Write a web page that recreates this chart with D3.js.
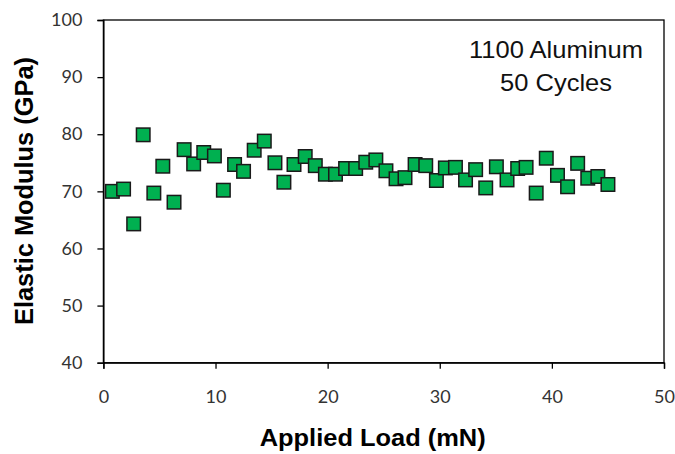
<!DOCTYPE html>
<html><head><meta charset="utf-8">
<script src="https://cdn.jsdelivr.net/npm/d3@7"></script>
<style>body{margin:0;background:#fff}svg{display:block}</style>
</head><body>
<svg id="c" width="675" height="454"></svg>
<script>
const loads = [0.8,1.8,2.7,3.55,4.5,5.3,6.3,7.2,8.05,8.95,9.9,10.7,11.7,12.5,13.45,14.35,15.3,16.1,
  17.0,18.0,18.9,19.8,20.7,21.6,22.5,23.4,24.3,25.2,26.1,26.9,27.8,28.75,29.7,30.5,31.4,32.3,
  33.2,34.1,35.05,36.0,36.95,37.7,38.6,39.5,40.5,41.4,42.3,43.2,44.1,45.0];
const moduli = [70.0,70.4,64.3,79.9,69.7,74.4,68.1,77.3,74.8,76.8,76.2,70.2,74.7,73.5,77.2,78.8,75.0,71.6,
  74.7,76.1,74.5,73.0,73.0,74.0,74.0,75.1,75.5,73.6,72.2,72.4,74.7,74.5,71.9,74.1,74.2,72.0,
  73.8,70.6,74.3,72.0,74.0,74.2,69.7,75.8,72.8,70.8,74.9,72.3,72.6,71.2];
const xTicks = [0,10,20,30,40,50];
const yTicks = [40,50,60,70,80,90,100];
const annotation = ["1100 Aluminum", "50 Cycles"];

const svg = d3.select("#c");
const L = 103.4, R = 664, T = 20, B = 362.7;
const x = d3.scaleLinear().domain([0,50]).range([L,R]);
const y = d3.scaleLinear().domain([40,100]).range([B,T]);

svg.append("rect").attr("x",L).attr("y",T).attr("width",R-L).attr("height",B-T)
  .attr("fill","none").attr("stroke","#000").attr("stroke-width",1.3);

const xa = svg.append("g").attr("transform",`translate(0,${B})`)
  .call(d3.axisBottom(x).tickValues(xTicks).tickSize(6).tickPadding(22).tickFormat(d3.format("d")));
const ya = svg.append("g").attr("transform",`translate(${L},0)`)
  .call(d3.axisLeft(y).tickValues(yTicks).tickSize(6).tickPadding(15).tickFormat(d3.format("d")));
[xa,ya].forEach(a=>{
  a.select(".domain").attr("stroke","#000").attr("stroke-width",1.3);
  a.selectAll(".tick line").attr("stroke","#000").attr("stroke-width",1.3);
  a.selectAll(".tick text").attr("fill","#333").style("font-family","Lato, 'Open Sans', sans-serif").style("font-size","18px");
});

const s = 13.5;
svg.append("g").selectAll("rect").data(loads).join("rect")
  .attr("x",(d,i)=>x(d)-s/2).attr("y",(d,i)=>y(moduli[i])-s/2)
  .attr("width",s).attr("height",s)
  .attr("fill","#00B050").attr("stroke","#1a1a1a").attr("stroke-width",1.5);

svg.append("text").attr("x",372.7).attr("y",446).attr("text-anchor","middle")
  .style("font-family","'Liberation Sans', Arial, sans-serif").style("font-weight","bold").style("font-size","24px")
  .attr("textLength",226).attr("lengthAdjust","spacingAndGlyphs")
  .text("Applied Load (mN)");
svg.append("text").attr("transform",`translate(33,191) rotate(-90)`).attr("text-anchor","middle")
  .style("font-family","'Liberation Sans', Arial, sans-serif").style("font-weight","bold").style("font-size","25px")
  .attr("textLength",268).attr("lengthAdjust","spacingAndGlyphs")
  .text("Elastic Modulus (GPa)");

const annLen = [174, 112];
svg.append("g").selectAll("text").data(annotation).join("text")
  .attr("x",556).attr("y",(d,i)=>58+i*33).attr("text-anchor","middle")
  .style("font-family","'Liberation Sans', Arial, sans-serif").style("font-size","24px").attr("fill","#111")
  .attr("textLength",(d,i)=>annLen[i]).attr("lengthAdjust","spacingAndGlyphs")
  .text(d=>d);
</script>
</body></html>
